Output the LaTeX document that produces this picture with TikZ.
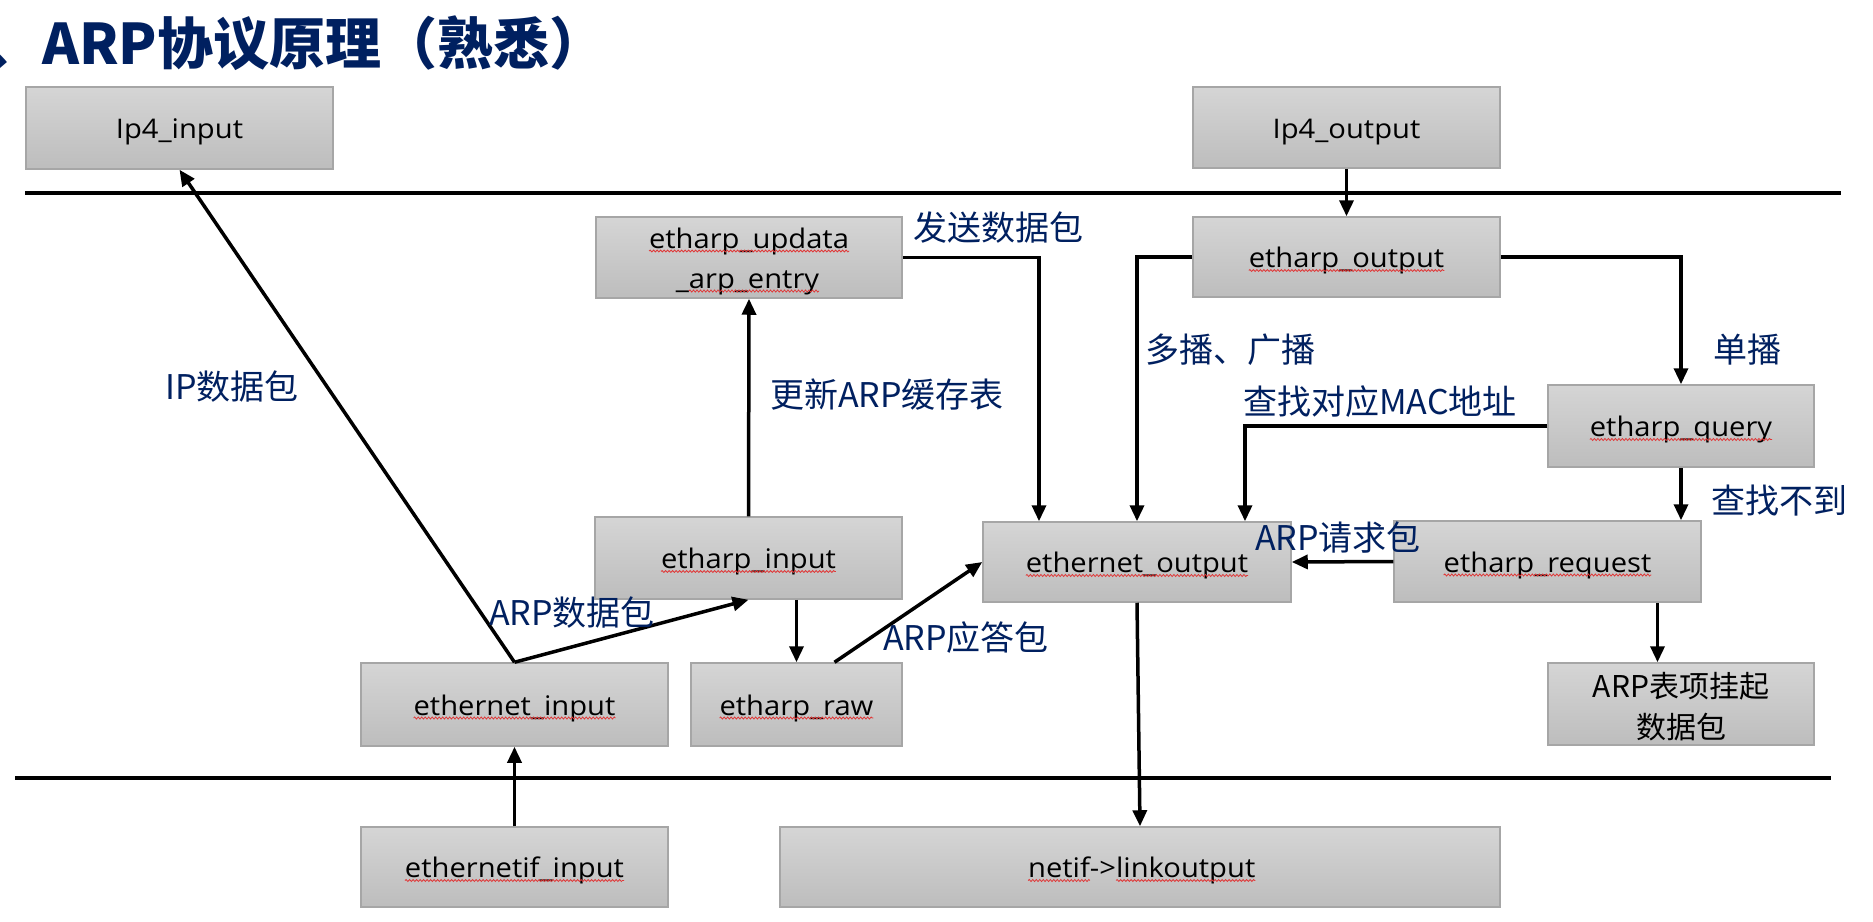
\documentclass[tikz,border=0pt]{standalone}
\usepackage{fontspec}
\usetikzlibrary{arrows.meta,calc,decorations.pathmorphing}
\newfontfamily\boxfont{Open Sans}[FakeStretch=1.08]
\newfontfamily\cjk{Noto Sans CJK SC}
\definecolor{navy}{HTML}{002060}
\definecolor{boxtop}{HTML}{D5D5D5}
\definecolor{boxbot}{HTML}{BDBDBD}
\definecolor{boxline}{HTML}{A6A6A6}
\definecolor{squig}{HTML}{E03838}
\tikzset{
  box/.style={draw=boxline, line width=1.5pt, top color=boxtop, bottom color=boxbot,
    inner sep=0pt, text=black, text height=25pt, text depth=4pt,
    font=\boxfont\fontsize{27}{40}\selectfont},
  btext/.style={inner sep=0pt, outer sep=0pt, anchor=base, text=black, font=\boxfont\fontsize{27}{40}\selectfont},
  ctext/.style={btext, font=\cjk\fontsize{30}{40}\selectfont},
  lbl/.style={inner sep=0pt, text=navy, font=\cjk\fontsize{34}{40}\selectfont},
  conn/.style={line width=3.5pt, draw=black, -{Triangle[length=16pt,width=14pt]}},
  sepline/.style={line width=4pt, draw=black},
  squigline/.style={draw=squig, line width=0.8pt, decorate, decoration={snake, amplitude=1pt, segment length=3.5pt}}
}
\newcommand\sqline[1]{\draw[squigline] ([yshift=-3pt]#1.base west) -- ([yshift=-3pt]#1.base east);}
\begin{document}
\begin{tikzpicture}[x=1pt,y=-1pt]
\useasboundingbox (0,0) rectangle (1873,921);
\fill[white] (0,0) rectangle (1873,921);
\begin{scope}
\clip (0,0) rectangle (1873,921);
\node[anchor=base west, inner sep=0pt, text=navy, font=\cjk\bfseries\fontsize{56}{62}\selectfont] (title) at (-14,64) {、ARP协议原理（熟悉）};
\end{scope}
% separator lines
\coordinate (tl) at (25,193);
\coordinate (tr) at (1841,193);
\coordinate (bl) at (15,778);
\coordinate (br) at (1831,778);
\draw[sepline] (tl) -- (tr);
\draw[sepline] (bl) -- (br);
% boxes
\node[box, minimum width=307, minimum height=82] (ip4in) at (179.5,128) {Ip4\_input};
\node[box, minimum width=307, minimum height=81] (ip4out) at (1346.5,127.5) {Ip4\_output};
\node[box, minimum width=306, minimum height=81] (eupd) at (749,257.5) {};
\node[box, minimum width=307, minimum height=80] (eoutp) at (1346.5,257) {};
\node[box, minimum width=266, minimum height=82] (equery) at (1681,426) {};
\node[box, minimum width=307, minimum height=81] (ereq) at (1547.5,561.5) {};
\node[box, minimum width=266, minimum height=82] (pend) at (1681,704) {};
\node[box, minimum width=308, minimum height=80] (ethout) at (1137,562) {};
\node[box, minimum width=307, minimum height=82] (ein) at (748.5,558) {};
\node[box, minimum width=307, minimum height=83] (ethin) at (514.5,704.5) {};
\node[box, minimum width=211, minimum height=83] (raw) at (796.5,704.5) {};
\node[box, minimum width=307, minimum height=80] (ethif) at (514.5,867) {};
\node[box, minimum width=720, minimum height=80] (link) at (1140,867) {};
% box texts
\node[btext] (tupdA) at (749,248) {etharp\_updata};
\node[btext] (tupdB) at (754,288) {arp\_entry};
\node[btext, anchor=base east] (tupdU) at (tupdB.base west) {\_};
\node[btext] (toutp) at (1346.5,267.5) {etharp\_output};
\node[btext] (tquery) at (1681,436.5) {etharp\_query};
\node[btext] (treq) at (1547.5,572) {etharp\_request};
\node[ctext] (tpendA) at (1681,697) {ARP表项挂起};
\node[ctext] (tpendB) at (1681,738) {数据包};
\node[btext] (tethout) at (1137,572.5) {ethernet\_output};
\node[btext] (tein) at (748.5,568.5) {etharp\_input};
\node[btext] (tethin) at (514.5,715) {ethernet\_input};
\node[btext] (traw) at (796.5,715) {etharp\_raw};
\node[btext] (tethif) at (514.5,877.5) {ethernetif\_input};
\node[btext] (tlnkB) at (1103,877.5) {->};
\node[btext, anchor=base east] (tlnkA) at (tlnkB.base west) {netif};
\node[btext, anchor=base west] (tlnkC) at (tlnkB.base east) {linkoutput};
% spell-check underlines
\sqline{tupdA}
\sqline{tupdB}
\sqline{toutp}
\sqline{tquery}
\sqline{treq}
\sqline{tethout}
\sqline{tein}
\sqline{tethin}
\sqline{traw}
\sqline{tethif}
\sqline{tlnkA}
\sqline{tlnkC}
% connectors
\draw[conn] (ethin.north) -- (ip4in.south);
\draw[conn] (ethin.north) -- (ein.south);
\draw[conn] (ein.north) -- (eupd.south);
\draw[conn] (raw.north |- ein.south) -- (raw.north);
\draw[conn] ([xshift=38pt]raw.north) -- (ethout.west);
\draw[conn] (eupd.east) -| ([xshift=-98pt]ethout.north);
\draw[conn] (eoutp.west) -| (ethout.north);
\draw[conn] (eoutp.east) -| (equery.north);
\draw[conn] (ip4out.south) -- (eoutp.north);
\draw[conn] (equery.west) -| ([xshift=108pt]ethout.north);
\draw[conn] (equery.south) -- (equery.south |- ereq.north);
\draw[conn] (ereq.west) -- (ethout.east);
\draw[conn] ([xshift=110pt]ereq.south) -- ([xshift=110pt]ereq.south |- pend.north);
\draw[conn] (ethout.south) -- (link.north);
\draw[conn] (ethif.north) -- (ethin.south);
% labels
\node[lbl] (lip) at (232,387) {IP数据包};
\node[lbl] (larpd) at (572,613) {ARP数据包};
\node[lbl] (lupd) at (887,395) {更新ARP缓存表};
\node[lbl] (lans) at (966,638) {ARP应答包};
\node[lbl] (lsend) at (998,228) {发送数据包};
\node[lbl] (lmulti) at (1230,350) {多播、广播};
\node[lbl] (luni) at (1747,350) {单播};
\node[lbl] (lmac) at (1380,402) {查找对应MAC地址};
\node[lbl] (lnf) at (1779,501) {查找不到};
\node[lbl] (lreq) at (1338,538) {ARP请求包};
\end{tikzpicture}
\end{document}
